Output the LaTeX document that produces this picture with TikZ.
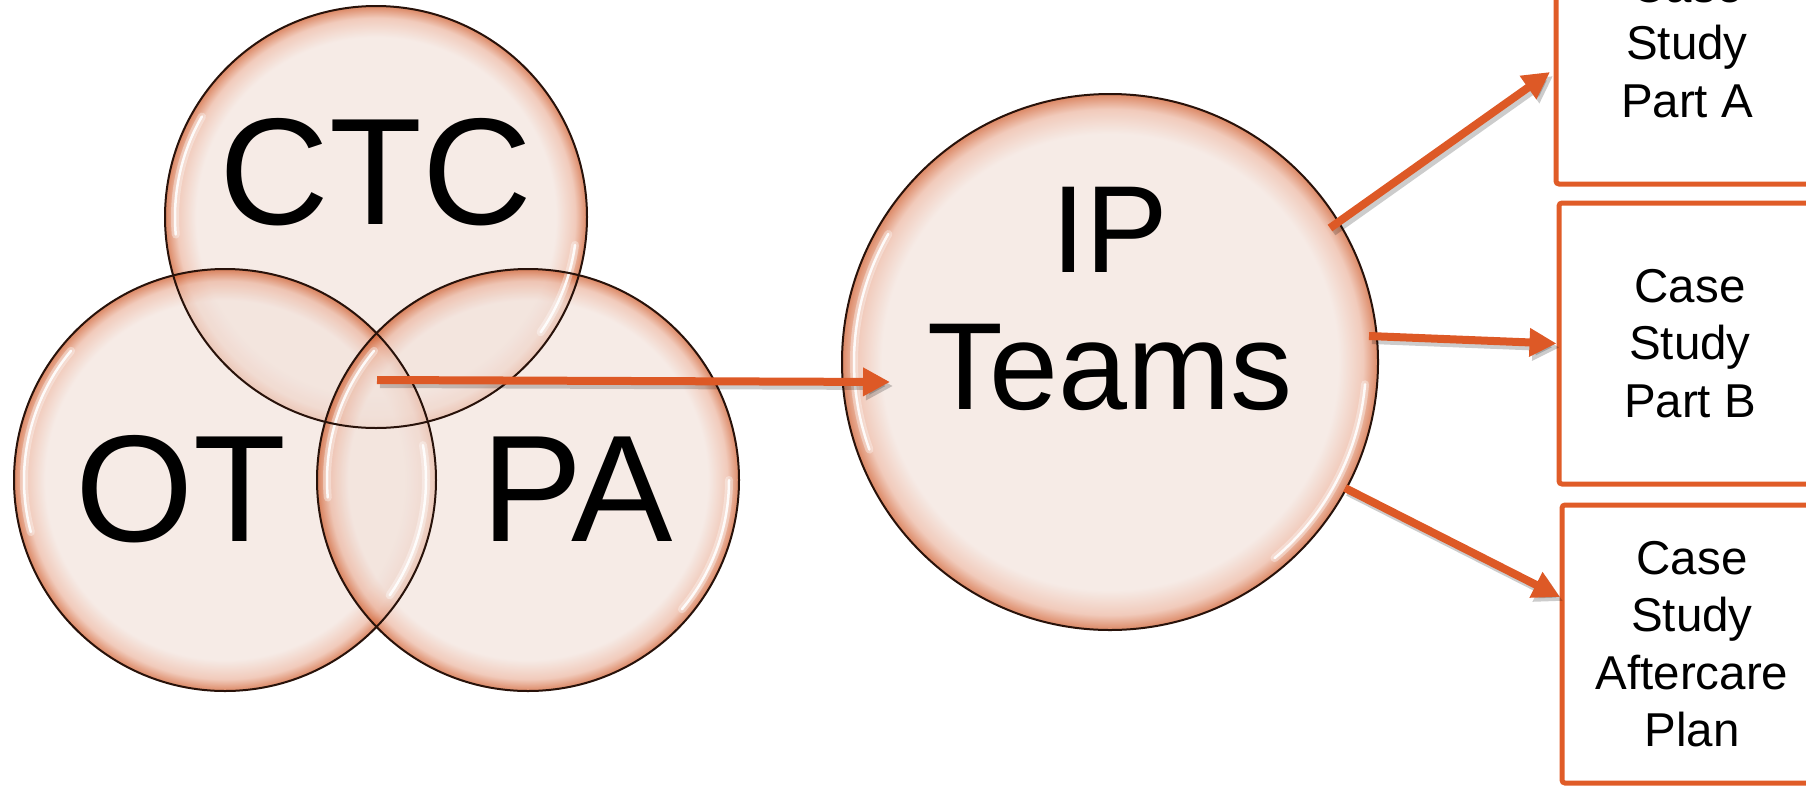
\documentclass[tikz,border=0pt]{standalone}
\usepackage{fontspec}
\setmainfont{Liberation Sans}
\usetikzlibrary{arrows.meta,calc}
\definecolor{bubA}{RGB}{242,226,219}
\definecolor{bubB}{RGB}{235,180,158}
\definecolor{bubC}{RGB}{205,85,35}
\definecolor{rimline}{RGB}{40,18,10}
\definecolor{arrowc}{RGB}{221,89,38}
\definecolor{boxc}{RGB}{224,92,40}
\pgfdeclareradialshading{bubble}{\pgfpoint{0bp}{0bp}}{color(0bp)=(bubA); color(21.3bp)=(bubA); color(23.6bp)=(bubB); color(25bp)=(bubC); color(50bp)=(bubC)}
\tikzset{
  bubblenode/.style={circle, inner sep=0pt, outer sep=0pt, shade, shading=bubble, fill opacity=0.7},
  rim/.style={draw=rimline, line width=2pt},
  hlsoft/.style={draw=white, line width=8pt, line cap=round, draw opacity=0.35},
  hl/.style={draw=white, line width=2.5pt, line cap=round, draw opacity=0.9},
  venntext/.style={font=\fontsize{152}{160}\selectfont, inner sep=0pt, anchor=base},
  iptext/.style={font=\fontsize{124}{137}\selectfont, inner sep=0pt, align=center},
  casebox/.style={draw=boxc, line width=5pt, rounded corners=3pt, inner sep=0pt, align=center, font=\fontsize{47.5}{57.5}\selectfont},
  conn/.style={draw=arrowc, line width=8pt, -{Triangle[length=27pt,width=27pt]}},
  connshadow/.style={draw=black, opacity=0.2, line width=8pt, -{Triangle[length=27pt,width=27pt]}, transform canvas={xshift=3pt,yshift=-4pt}},
}
\begin{document}
\begin{tikzpicture}[x=1pt,y=-1pt]
\useasboundingbox (0,0) rectangle (1806,785);
% bubbles
\node[bubblenode, minimum size=422pt] (ctc) at (376,217) {};
\node[bubblenode, minimum size=422pt] (ot) at (225,480) {};
\node[bubblenode, minimum size=422pt] (pa) at (528,480) {};
\node[bubblenode, minimum size=536pt] (ip) at (1110,362) {};
% glossy highlights
\foreach \c/\r/\la/\lb/\ra/\rb in {ctc/201/150/185/-35/-8, ot/201/140/195/-35/10, pa/201/140/185/-40/0, ip/256/150/200/-50/-5}{
  \draw[hlsoft] ($(\c.center)+(\la:\r pt)$) arc[start angle=\la, end angle=\lb, radius=\r pt];
  \draw[hl] ($(\c.center)+(\la:\r pt)$) arc[start angle=\la, end angle=\lb, radius=\r pt];
  \draw[hlsoft] ($(\c.center)+(\ra:\r pt)$) arc[start angle=\ra, end angle=\rb, radius=\r pt];
  \draw[hl] ($(\c.center)+(\ra:\r pt)$) arc[start angle=\ra, end angle=\rb, radius=\r pt];
}
% outlines
\draw[rim] (ctc.center) circle[radius=211pt];
\draw[rim] (ot.center) circle[radius=211pt];
\draw[rim] (pa.center) circle[radius=211pt];
\draw[rim] (ip.center) circle[radius=268pt];
% texts
\node[venntext] (tctc) at (376,224) {CTC};
\node[venntext] (tot) at (181,541) {OT};
\node[venntext] (tpa) at (577,541) {PA};
\node[iptext] (iplabel) at (1110,299) {IP\\Teams};
% boxes
\node[casebox, minimum width=262pt, minimum height=281pt] (boxa) at (1687,43.5) {Case\\Study\\Part A};
\node[casebox, minimum width=262pt, minimum height=281pt] (boxb) at (1690,343.5) {Case\\Study\\Part B};
\node[casebox, minimum width=260pt, minimum height=278pt] (boxc) at (1692,644) {Case\\Study\\Aftercare\\Plan};
% connectors
\coordinate (s0) at (377,380);
\coordinate (e0) at (890,382);
\coordinate (sA) at (1330,228);
\coordinate (eA) at (1550,72);
\coordinate (sB) at (1369,336);
\coordinate (sC) at (1345,488);
\coordinate (eC) at (1560,597);
\draw[connshadow] (s0) -- (e0);
\draw[connshadow] (sA) -- (eA);
\draw[connshadow] (sB) -- (boxb.west);
\draw[connshadow] (sC) -- (eC);
\draw[conn] (s0) -- (e0);
\draw[conn] (sA) -- (eA);
\draw[conn] (sB) -- (boxb.west);
\draw[conn] (sC) -- (eC);
\end{tikzpicture}
\end{document}
